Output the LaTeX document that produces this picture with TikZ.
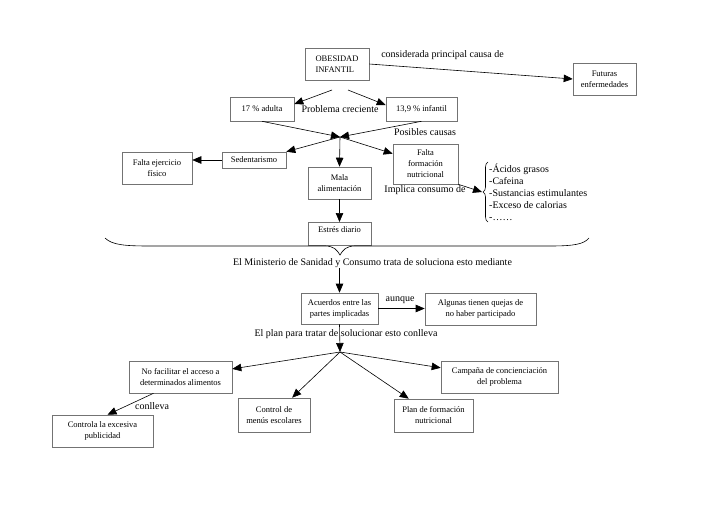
\documentclass[tikz,border=0pt]{standalone}
\usepackage{fontspec}
\setmainfont{Liberation Serif}
\usepackage{tikz}
\usetikzlibrary{arrows.meta,decorations.pathreplacing}

\begin{document}
\begin{tikzpicture}[x=1pt, y=-1pt,
		caja/.style={draw=black!55, line width=0.6pt, inner sep=0pt, align=center, font=\fontsize{8.5}{11}\selectfont},
		etiqueta/.style={inner sep=0pt, font=\fontsize{10}{12}\selectfont},
		flecha/.style={line width=0.6pt, -{Triangle[length=9pt, width=7.5pt]}}]
		\useasboundingbox (0,0) rectangle (728,514);
		% parte superior
		\node[caja, minimum width=64, minimum height=32, align=left] (obes) at (337,64) {OBESIDAD\\INFANTIL};
		\node[caja, minimum width=63, minimum height=32] (fut) at (604.5,79) {Futuras\\enfermedades};
		\node[caja, minimum width=64, minimum height=24] (adul) at (262,109) {17 \% adulta};
		\node[caja, minimum width=71, minimum height=24] (inf) at (421.5,109) {13,9 \% infantil};
		\node[caja, minimum width=64, minimum height=16] (sed) at (254,160) {Sedentarismo};
		\node[caja, minimum width=70, minimum height=32] (fej) at (157,168) {Falta ejercicio\\físico};
		\node[caja, minimum width=63, minimum height=32] (mala) at (339.5,183) {Mala\\alimentación};
		\node[caja, minimum width=65, minimum height=40] (ffn) at (425.5,164) {Falta\\formación\\nutricional};
		\node[caja, minimum width=63, anchor=north, inner ysep=3pt, text height=7pt, text depth=10pt] (est) at (339.5,222) {Estrés diario};
		\node[etiqueta] (caus) at (442.5,55) {considerada principal causa de};
		\node[etiqueta] (crec) at (340,109) {Problema creciente};
		\node[etiqueta] (posib) at (425,132) {Posibles causas};
		\node[etiqueta] (impl) at (425,190) {Implica consumo de};
		\node[etiqueta, anchor=west, align=left] (lista) at (489,192) {-Ácidos grasos\\-Cafeina\\-Sustancias estimulantes\\-Exceso de calorias\\-……};
		\coordinate (o1) at (332,90);
		\coordinate (o2) at (348,90);
		\coordinate (hub1) at (340,137);
		\coordinate (tip) at (482,192);
		\draw[flecha] (obes.east) -- (fut.west);
		\draw[flecha] (o1) -- ([yshift=5pt]adul.east);
		\draw[flecha] (o2) -- ([yshift=4pt]inf.west);
		\draw[flecha] (adul.south) -- (hub1);
		\draw[flecha] (inf.south) -- (hub1);
		\draw[flecha] (hub1) -- (sed.north east);
		\draw[flecha] (hub1) -- (ffn);
		\draw[flecha] (hub1) -- (mala.north);
		\draw[flecha] (sed.west) -- (sed.west -| fej.east);
		\draw[flecha] (mala.south) -- (est.north);
		\draw[flecha] (ffn.south east) -- (tip);
		\draw[line width=0.6pt, decorate, decoration={brace, amplitude=5pt}] (488,222) -- (488,162);
		% llave grande
		\draw[line width=0.6pt] (105,238) .. controls (112,245) and (125,246) .. (150,246) -- (325,246)
			.. controls (334,246) and (337,250) .. (340,255) .. controls (343,250) and (346,246) .. (355,246)
			-- (550,246) .. controls (575,246) and (584,244) .. (589,238);
		% parte inferior
		\node[etiqueta] (mini) at (372.5,263) {El Ministerio de Sanidad y Consumo trata de soluciona esto mediante};
		\node[caja, minimum width=77, minimum height=31] (acu) at (339.5,308.5) {Acuerdos entre las\\partes implicadas};
		\node[caja, minimum width=111, minimum height=32] (alg) at (480.5,309) {Algunas tienen quejas de\\no haber participado};
		\node[etiqueta] (aunq) at (400,300) {aunque};
		\node[etiqueta] (plantxt) at (346,334) {El plan para tratar de solucionar esto conlleva};
		\node[caja, minimum width=103, minimum height=32] (nofac) at (180.5,377) {No facilitar el acceso a\\determinados alimentos};
		\node[caja, minimum width=72, minimum height=34] (menus) at (274,415) {Control de\\menús escolares};
		\node[caja, minimum width=79, minimum height=33] (plan) at (433.5,415.5) {Plan de formación\\nutricional};
		\node[caja, minimum width=117, minimum height=32] (camp) at (499.5,377) {Campaña de concienciación\\del problema};
		\node[caja, minimum width=101, minimum height=32] (contr) at (102.5,431) {Controla la excesiva\\publicidad};
		\node[etiqueta] (conll) at (152,406) {conlleva};
		\coordinate (hub2) at (340,352);
		\draw[flecha] (mini.south -| acu.north) -- (acu.north);
		\draw[flecha] (acu.east) -- (acu.east -| alg.west);
		\draw[flecha] (acu.south) -- (hub2);
		\draw[flecha] (hub2) -- (nofac);
		\draw[flecha] (hub2) -- (menus);
		\draw[flecha] (hub2) -- (plan);
		\draw[flecha] (hub2) -- (camp);
		\draw[flecha] ([xshift=-27pt]nofac.south) -- ([xshift=5pt]contr.north);
	\end{tikzpicture}
\end{document}
